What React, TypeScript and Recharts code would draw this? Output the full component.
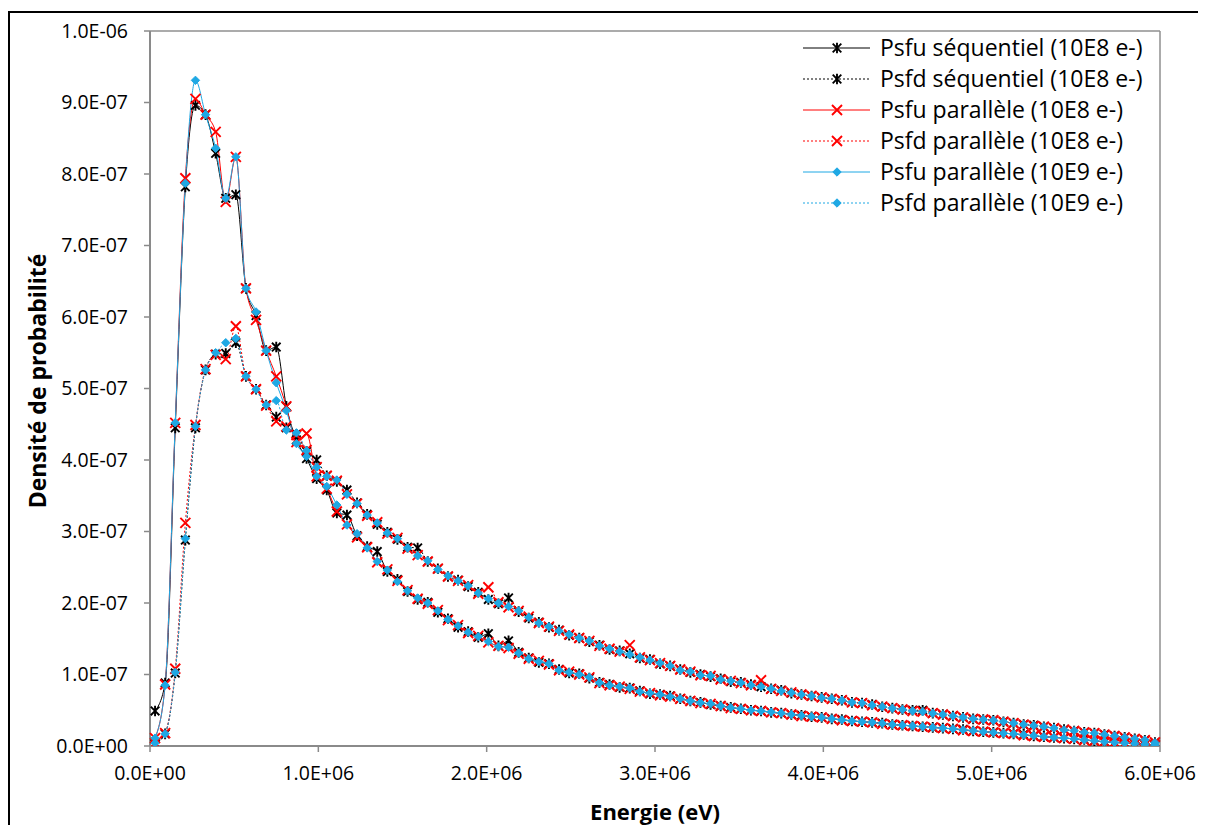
import { LineChart, Line, XAxis, YAxis, ReferenceLine } from 'recharts';

// bin centres, keV (60 keV bins up to 6 MeV)
const energiesKeV = [
  30, 90, 150, 210, 270, 330, 390, 450, 510, 570,
  630, 690, 750, 810, 870, 930, 990, 1050, 1110, 1170,
  1230, 1290, 1350, 1410, 1470, 1530, 1590, 1650, 1710, 1770,
  1830, 1890, 1950, 2010, 2070, 2130, 2190, 2250, 2310, 2370,
  2430, 2490, 2550, 2610, 2670, 2730, 2790, 2850, 2910, 2970,
  3030, 3090, 3150, 3210, 3270, 3330, 3390, 3450, 3510, 3570,
  3630, 3690, 3750, 3810, 3870, 3930, 3990, 4050, 4110, 4170,
  4230, 4290, 4350, 4410, 4470, 4530, 4590, 4650, 4710, 4770,
  4830, 4890, 4950, 5010, 5070, 5130, 5190, 5250, 5310, 5370,
  5430, 5490, 5550, 5610, 5670, 5730, 5790, 5850, 5910, 5970,
];

// probability density, in units of 1E-07
const psfuSeq8 = [
  0.49, 0.88, 4.45, 7.82, 8.96, 8.83, 8.29, 7.66, 7.71, 6.40,
  6.02, 5.53, 5.58, 4.75, 4.28, 4.02, 3.74, 3.58, 3.26, 3.23,
  2.94, 2.79, 2.72, 2.44, 2.33, 2.16, 2.05, 2.01, 1.87, 1.78,
  1.66, 1.60, 1.52, 1.57, 1.40, 1.47, 1.31, 1.23, 1.17, 1.15,
  1.07, 1.02, 1.01, 0.95, 0.89, 0.86, 0.82, 0.81, 0.77, 0.73,
  0.72, 0.70, 0.66, 0.63, 0.61, 0.58, 0.56, 0.54, 0.52, 0.50,
  0.49, 0.47, 0.46, 0.44, 0.43, 0.41, 0.40, 0.38, 0.37, 0.35,
  0.34, 0.33, 0.32, 0.30, 0.29, 0.28, 0.27, 0.26, 0.25, 0.24,
  0.23, 0.21, 0.20, 0.19, 0.18, 0.17, 0.16, 0.14, 0.13, 0.12,
  0.11, 0.10, 0.09, 0.07, 0.06, 0.05, 0.04, 0.03, 0.02, 0.01,
];

const psfdSeq8 = [
  0.03, 0.17, 1.02, 2.88, 4.45, 5.26, 5.48, 5.49, 5.64, 5.17,
  4.99, 4.77, 4.60, 4.45, 4.36, 4.12, 4.00, 3.78, 3.70, 3.58,
  3.40, 3.24, 3.10, 2.99, 2.89, 2.78, 2.77, 2.58, 2.48, 2.37,
  2.32, 2.23, 2.15, 2.05, 1.99, 2.07, 1.88, 1.79, 1.73, 1.66,
  1.62, 1.55, 1.51, 1.46, 1.41, 1.35, 1.33, 1.29, 1.23, 1.21,
  1.15, 1.12, 1.07, 1.03, 1.00, 0.97, 0.94, 0.90, 0.89, 0.86,
  0.83, 0.80, 0.78, 0.74, 0.72, 0.70, 0.68, 0.66, 0.64, 0.61,
  0.60, 0.58, 0.55, 0.53, 0.51, 0.50, 0.50, 0.46, 0.44, 0.42,
  0.40, 0.38, 0.37, 0.36, 0.34, 0.32, 0.30, 0.29, 0.27, 0.25,
  0.23, 0.21, 0.19, 0.18, 0.16, 0.14, 0.12, 0.10, 0.08, 0.05,
];

const psfuPar8 = [
  0.11, 0.86, 4.52, 7.94, 9.05, 8.83, 8.59, 7.61, 8.24, 6.40,
  5.96, 5.53, 5.17, 4.75, 4.25, 4.37, 3.77, 3.60, 3.28, 3.10,
  2.92, 2.78, 2.57, 2.47, 2.31, 2.18, 2.06, 1.99, 1.90, 1.76,
  1.69, 1.58, 1.54, 1.45, 1.40, 1.37, 1.29, 1.22, 1.19, 1.14,
  1.06, 1.04, 1.00, 0.96, 0.88, 0.85, 0.83, 0.80, 0.76, 0.74,
  0.71, 0.69, 0.66, 0.63, 0.60, 0.59, 0.56, 0.53, 0.52, 0.50,
  0.49, 0.47, 0.46, 0.44, 0.42, 0.41, 0.40, 0.38, 0.36, 0.35,
  0.34, 0.33, 0.31, 0.30, 0.29, 0.28, 0.27, 0.26, 0.25, 0.24,
  0.22, 0.21, 0.20, 0.19, 0.18, 0.17, 0.15, 0.14, 0.13, 0.12,
  0.11, 0.10, 0.08, 0.07, 0.06, 0.05, 0.04, 0.03, 0.02, 0.01,
];

const psfdPar8 = [
  0.04, 0.18, 1.08, 3.12, 4.49, 5.27, 5.47, 5.41, 5.87, 5.17,
  4.99, 4.76, 4.54, 4.47, 4.35, 4.14, 3.90, 3.78, 3.71, 3.52,
  3.39, 3.22, 3.13, 2.97, 2.91, 2.76, 2.67, 2.58, 2.48, 2.37,
  2.31, 2.25, 2.13, 2.22, 2.01, 1.94, 1.89, 1.81, 1.72, 1.67,
  1.61, 1.56, 1.51, 1.47, 1.40, 1.36, 1.32, 1.41, 1.24, 1.20,
  1.16, 1.12, 1.07, 1.04, 0.99, 0.98, 0.93, 0.91, 0.88, 0.85,
  0.92, 0.80, 0.77, 0.75, 0.72, 0.70, 0.68, 0.66, 0.64, 0.61,
  0.60, 0.57, 0.55, 0.53, 0.51, 0.49, 0.48, 0.46, 0.44, 0.42,
  0.40, 0.38, 0.37, 0.36, 0.34, 0.32, 0.30, 0.28, 0.27, 0.25,
  0.23, 0.21, 0.19, 0.18, 0.16, 0.14, 0.12, 0.10, 0.08, 0.05,
];

const psfuPar9 = [
  0.11, 0.85, 4.52, 7.87, 9.31, 8.83, 8.36, 7.66, 8.24, 6.40,
  6.07, 5.53, 5.08, 4.69, 4.23, 4.05, 3.77, 3.63, 3.37, 3.09,
  2.97, 2.77, 2.58, 2.46, 2.30, 2.17, 2.07, 2.00, 1.89, 1.77,
  1.68, 1.59, 1.53, 1.46, 1.39, 1.38, 1.30, 1.22, 1.18, 1.15,
  1.06, 1.03, 1.00, 0.96, 0.885, 0.85, 0.83, 0.81, 0.76, 0.74,
  0.72, 0.69, 0.66, 0.63, 0.605, 0.59, 0.56, 0.535, 0.52, 0.50,
  0.49, 0.475, 0.46, 0.44, 0.425, 0.41, 0.40, 0.38, 0.365, 0.35,
  0.34, 0.33, 0.317, 0.30, 0.29, 0.28, 0.27, 0.26, 0.25, 0.24,
  0.225, 0.215, 0.20, 0.19, 0.178, 0.17, 0.155, 0.145, 0.13, 0.12,
  0.112, 0.10, 0.085, 0.075, 0.06, 0.05, 0.042, 0.035, 0.024, 0.01,
];

const psfdPar9 = [
  0.04, 0.17, 1.03, 2.90, 4.47, 5.26, 5.50, 5.64, 5.70, 5.17,
  4.99, 4.77, 4.83, 4.42, 4.38, 4.13, 3.90, 3.77, 3.72, 3.52,
  3.39, 3.23, 3.12, 2.98, 2.90, 2.77, 2.66, 2.59, 2.47, 2.38,
  2.31, 2.24, 2.14, 2.06, 2.00, 1.95, 1.89, 1.80, 1.72, 1.67,
  1.61, 1.56, 1.51, 1.47, 1.40, 1.36, 1.32, 1.28, 1.24, 1.20,
  1.16, 1.12, 1.06, 1.04, 0.99, 0.98, 0.93, 0.91, 0.885, 0.85,
  0.83, 0.80, 0.77, 0.745, 0.72, 0.70, 0.675, 0.66, 0.64, 0.61,
  0.60, 0.57, 0.55, 0.527, 0.51, 0.49, 0.48, 0.457, 0.44, 0.42,
  0.40, 0.38, 0.37, 0.36, 0.34, 0.32, 0.30, 0.285, 0.27, 0.25,
  0.225, 0.215, 0.19, 0.18, 0.16, 0.14, 0.12, 0.10, 0.084, 0.046,
];

const xTicks = [0, 1e6, 2e6, 3e6, 4e6, 5e6, 6e6];
const yTicks = [0, 1e-7, 2e-7, 3e-7, 4e-7, 5e-7, 6e-7, 7e-7, 8e-7, 9e-7, 1e-6];

const UNIT = 1e-7;
const BLACK = '#000000';
const RED = '#ff0000';
const BLUE = '#1ea8e4';

type Marker = 'star' | 'cross' | 'diamond';

const series = [
  { key: 'psfuSeq8', name: 'Psfu séquentiel (10E8 e-)', values: psfuSeq8, color: BLACK, dotted: false, marker: 'star' as Marker },
  { key: 'psfdSeq8', name: 'Psfd séquentiel (10E8 e-)', values: psfdSeq8, color: BLACK, dotted: true, marker: 'star' as Marker },
  { key: 'psfuPar8', name: 'Psfu parallèle (10E8 e-)', values: psfuPar8, color: RED, dotted: false, marker: 'cross' as Marker },
  { key: 'psfdPar8', name: 'Psfd parallèle (10E8 e-)', values: psfdPar8, color: RED, dotted: true, marker: 'cross' as Marker },
  { key: 'psfuPar9', name: 'Psfu parallèle (10E9 e-)', values: psfuPar9, color: BLUE, dotted: false, marker: 'diamond' as Marker },
  { key: 'psfdPar9', name: 'Psfd parallèle (10E9 e-)', values: psfdPar9, color: BLUE, dotted: true, marker: 'diamond' as Marker },
];

const chartData = energiesKeV.map((e, i) => {
  const row: Record<string, number> = { energy: e * 1000 };
  series.forEach((s) => {
    row[s.key] = s.values[i] * UNIT;
  });
  return row;
});

// Excel style scientific labels: 1.0E-07, 0.0E+00
function sci(v: number) {
  if (v === 0) return '0.0E+00';
  const [m, e] = v.toExponential(1).split('e');
  const n = parseInt(e, 10);
  return `${m}E${n < 0 ? '-' : '+'}${String(Math.abs(n)).padStart(2, '0')}`;
}

function markerShape(kind: Marker, cx: number, cy: number, color: string, key?: string) {
  if (kind === 'star') {
    const r = 4.3;
    return (
      <path
        key={key}
        d={`M${cx - r},${cy - r}L${cx + r},${cy + r}M${cx - r},${cy + r}L${cx + r},${cy - r}M${cx},${cy - r - 1}L${cx},${cy + r + 1}`}
        stroke={color}
        strokeWidth={1.9}
        fill="none"
      />
    );
  }
  if (kind === 'cross') {
    const r = 5;
    return (
      <path
        key={key}
        d={`M${cx - r},${cy - r}L${cx + r},${cy + r}M${cx - r},${cy + r}L${cx + r},${cy - r}`}
        stroke={color}
        strokeWidth={1.9}
        fill="none"
      />
    );
  }
  const r = 4.2;
  return (
    <path
      key={key}
      d={`M${cx},${cy - r}L${cx + r},${cy}L${cx},${cy + r}L${cx - r},${cy}Z`}
      fill={color}
      stroke={color}
      strokeWidth={1}
    />
  );
}

const makeDot = (kind: Marker, color: string, prefix: string) => (props: any) => {
  const { cx, cy, index } = props;
  if (cx == null || cy == null) return <g key={`${prefix}-${index}`} />;
  return markerShape(kind, cx, cy, color, `${prefix}-${index}`);
};

const FONT = '"Open Sans", "Noto Sans", sans-serif';

function LegendBox() {
  return (
    <div style={{ position: 'absolute', left: 795, top: 32, fontFamily: FONT, fontSize: 23, color: '#000' }}>
      {series.map((s) => (
        <div key={s.key} style={{ display: 'flex', alignItems: 'center', height: 31 }}>
          <svg width={72} height={20} style={{ marginLeft: 8, marginRight: 5 }}>
            <line
              x1={0}
              y1={10}
              x2={67}
              y2={10}
              stroke={s.color}
              strokeWidth={1}
              strokeDasharray={s.dotted ? '2 2' : undefined}
            />
            {markerShape(s.marker, 34, 10, s.color)}
          </svg>
          <span style={{ whiteSpace: 'nowrap', lineHeight: '31px' }}>{s.name}</span>
        </div>
      ))}
    </div>
  );
}

export default function App() {
  return (
    <div style={{ position: 'relative', width: 1198, height: 817 }}>
      <style>{'html,body{overflow:hidden}'}</style>
      <div
        style={{
          position: 'absolute',
          left: 0,
          top: 3,
          right: 0,
          bottom: 0,
          borderLeft: '2px solid #000',
          borderTop: '2px solid #000',
        }}
      />
      <div style={{ position: 'absolute', left: -8, top: -8, width: 1206, height: 825 }}>
        <LineChart
          width={1206}
          height={825}
          data={chartData}
          margin={{ top: 31, right: 46, bottom: 0, left: 0 }}
          style={{ fontFamily: FONT }}
        >
          <XAxis
            dataKey="energy"
            type="number"
            domain={[0, 6e6]}
            ticks={xTicks}
            tickFormatter={sci}
            height={79}
            tickSize={6}
            tickMargin={14}
            tick={{ fill: '#000', fontSize: 19.5 }}
            axisLine={{ stroke: '#8a8a8a', strokeWidth: 2 }}
            tickLine={{ stroke: '#8a8a8a', strokeWidth: 1.5 }}
          />
          <YAxis
            type="number"
            domain={[0, 1e-6]}
            ticks={yTicks}
            tickFormatter={sci}
            width={150}
            tickSize={6}
            tickMargin={16}
            tick={{ fill: '#000', fontSize: 19.5 }}
            axisLine={{ stroke: '#8a8a8a', strokeWidth: 2 }}
            tickLine={{ stroke: '#8a8a8a', strokeWidth: 1.5 }}
            allowDataOverflow
          />
          <ReferenceLine y={1e-6} stroke="#8f8f8f" strokeWidth={1.5} />
          <ReferenceLine x={6e6} stroke="#8f8f8f" strokeWidth={1.5} />
          {series.map((s) => (
            <Line
              key={s.key}
              type="monotone"
              dataKey={s.key}
              name={s.name}
              stroke={s.color}
              strokeWidth={1}
              strokeDasharray={s.dotted ? '2 2' : undefined}
              dot={makeDot(s.marker, s.color, s.key)}
              activeDot={false}
              isAnimationActive={false}
            />
          ))}
        </LineChart>
        <LegendBox />
        <div
          style={{
            position: 'absolute',
            left: 655,
            top: 811,
            transform: 'translate(-50%, -50%)',
            fontFamily: FONT,
            fontWeight: 700,
            fontSize: 22,
            lineHeight: 1,
            whiteSpace: 'nowrap',
          }}
        >
          Energie (eV)
        </div>
        <div
          style={{
            position: 'absolute',
            left: 37,
            top: 381,
            transform: 'translate(-50%, -50%) rotate(-90deg)',
            fontFamily: FONT,
            fontWeight: 700,
            fontSize: 23,
            lineHeight: 1,
            whiteSpace: 'nowrap',
          }}
        >
          Densité de probabilité
        </div>
      </div>
    </div>
  );
}
